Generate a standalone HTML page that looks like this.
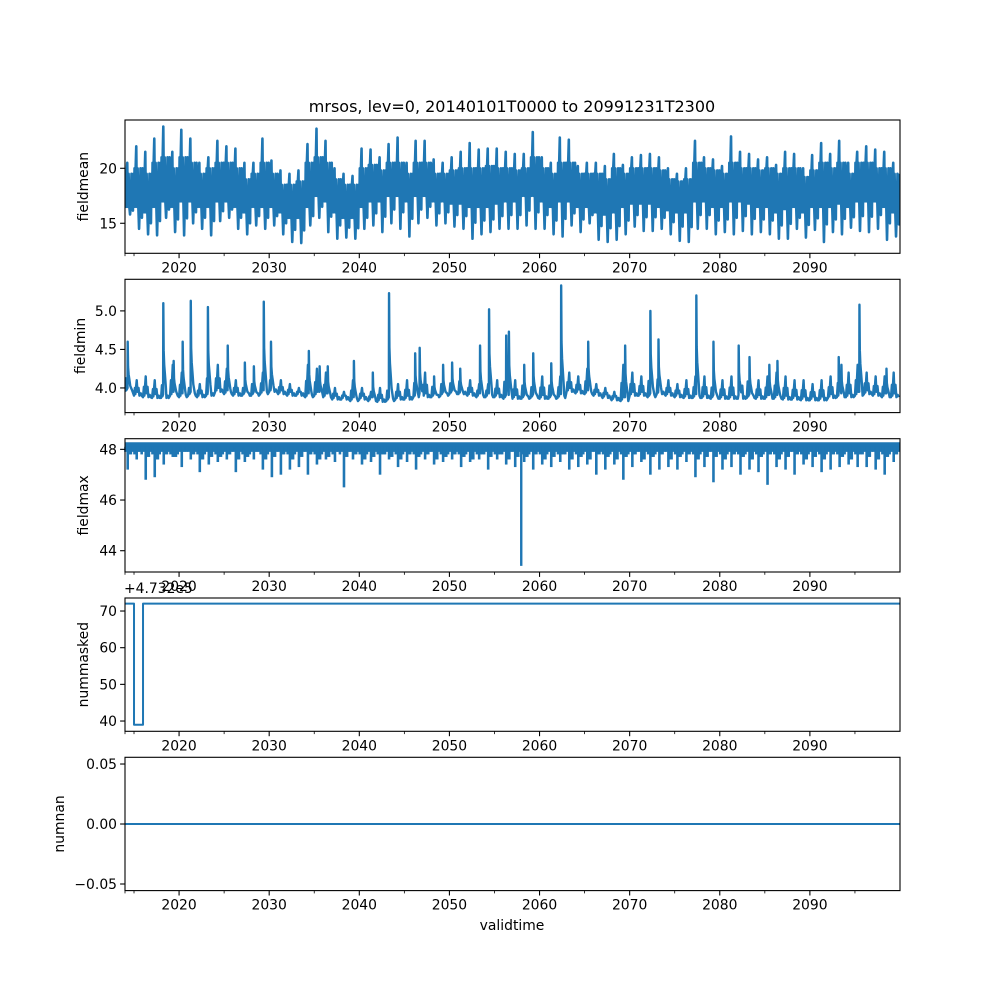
<!DOCTYPE html>
<html><head><meta charset="utf-8"><style>
html,body{margin:0;padding:0;background:#fff;}
svg{display:block;font-family:"DejaVu Sans","Liberation Sans",sans-serif;}
</style></head><body>
<svg id="chart" width="1000" height="1000" viewBox="0 0 1000 1000" xmlns="http://www.w3.org/2000/svg">
<rect x="0" y="0" width="1000" height="1000" fill="#fff"/>
<text x="512" y="112" font-size="16" text-anchor="middle">mrsos, lev=0, 20140101T0000 to 20991231T2300</text>
<text x="512" y="930" font-size="13.9" text-anchor="middle">validtime</text>
<text x="124" y="593" font-size="13.9">+4.732e5</text>
</svg>
<script>
// ---------- data ----------
const meanPeak=[20.5,22,21.5,22.7,23.8,21.5,23.5,22.7,20.5,21,
22.5,22,21.8,20.5,20.5,22.7,20.7,19.8,19.5,19.8,
22.2,23.6,22.5,20,19.5,19.3,21.8,21.7,21,22.2,
22.8,20.5,22.5,22.5,20.8,20.5,21,21.5,22.3,21.7,
21.8,21.8,21.5,21.3,21.3,23.3,21,20.5,22.8,22.6,
20.2,20.5,20.5,20.2,21.3,20.3,21,21.2,21.3,21,
20,19.5,20,22.5,21,20.8,20.2,22.9,21.5,21.3,
20.8,21,20.3,21.5,21.3,20,21.2,22.3,21.3,22.5,
20.5,21.5,22,21.7,21.5,20.5];
const meanTrough=[15.8,14.5,14,13.9,15.5,14.2,13.9,15,14.5,13.9,
15.2,15.5,14.5,14,14.8,14.5,14.8,14,13.3,13.2,
14.8,15.5,14.2,13.6,13.7,13.6,14.5,14.8,14.2,15,
14.5,13.8,15,15.5,14.8,15,14.7,14.5,13.6,14,
14.2,14.5,14.5,14.5,14.8,14.5,14.5,14,13.8,14.8,
14.2,15,13.5,13.3,13.5,14,14.7,14.3,14.3,14.5,
14,13.4,13.3,14.5,14.5,14,14.2,14,14.3,14,
14.2,14,13.6,13.6,14.5,13.7,14.4,13.3,14.2,14,
14.6,14.3,14.2,14.5,13.5,13.8];
const meanSecond=[19.5,20,19.5,20.5,21,20,21,20.5,19.5,20,
20.5,20.5,20,19,19.5,20.5,19.5,18.5,18.5,18.8,
20.5,21,20.5,19,18.5,18.5,20,20.3,19.8,20.5,
20.5,19.5,20.5,20.5,19.5,19.5,19.8,20,20,20,
20.2,20,20,19.8,20,21,20,19.5,20.5,20.5,
19.5,19.5,19.5,19,20,19.5,20,20,20,19.8,
19,18.8,19,20.5,20,19.8,19.5,20.5,20,20,
19.8,20,19.5,20,20,19.2,19.8,20.5,20,20.5,
19.5,20.5,20.5,20,20,19.5];
const meanSub=[16.5,16.5,16,16.5,17,16.5,17,17,16.5,16.5,
17,17,16.5,16,16.5,16.5,16.5,16,15.5,15.5,
16.5,17.5,17,16,15.5,15.5,16.5,17,17,17.5,
17.5,17,17.5,17.5,17,17,16.8,16.8,16.5,16.5,
16.5,16.8,17,17,17.5,17.5,17,16.5,17,17,
16.5,16.5,16,15.8,16,16.5,16.8,16.8,16.8,16.5,
16.2,16,16,17,17,16.5,16.5,17,17,16.8,
16.5,16.5,16,16.3,16.5,16,16.5,16.5,16.5,16.8,
16.5,17,17,17,16.5,16];

const minBase=[3.95,3.9,3.88,3.87,3.87,3.9,3.88,3.9,3.88,3.9,
3.95,3.92,3.9,3.9,3.9,3.92,3.95,3.92,3.9,3.9,
3.88,3.9,3.88,3.85,3.85,3.83,3.85,3.83,3.82,3.83,
3.85,3.85,3.88,3.88,3.88,3.9,3.92,3.92,3.9,3.88,
3.88,3.88,3.86,3.86,3.86,3.87,3.86,3.86,3.87,3.95,
3.93,3.92,3.9,3.87,3.84,3.83,3.9,3.9,3.88,3.92,
3.9,3.88,3.87,3.87,3.87,3.86,3.86,3.86,3.86,3.87,
3.86,3.86,3.86,3.85,3.85,3.84,3.84,3.84,3.87,3.88,
3.88,3.9,3.92,3.9,3.88,3.88];
const minBump=[4.3,4.1,4.15,4.1,4.2,4.3,4.2,4.1,4.05,4.35,
4.3,4.25,4.1,4.1,4.2,4.2,4.25,4.1,4.05,4.0,
4.3,4.25,4.2,4.0,3.95,4.1,4.0,3.95,4.0,4.1,
4.05,4.1,4.25,4.2,4.15,4.2,4.2,4.25,4.1,4.05,
4.05,4.1,4.3,4.1,4.2,4.15,4.15,4.2,4.15,4.2,
4.15,4.25,4.05,4.0,3.95,4.3,4.2,4.15,4.3,4.3,
4.1,4.05,4.1,4.15,4.15,4.15,4.1,4.15,4.2,4.3,
4.1,4.15,4.2,4.15,4.1,4.1,4.05,4.1,4.15,4.25,
4.2,4.3,4.2,4.15,4.15,4.2];
const minSpikeYears=[2014.3,2018.25,2019.4,2020.4,2021.3,2023.2,2025.4,2027.3,2028.3,2029.4,2030.2,2034.4,2035.6,2036.5,2039.4,2041.5,2043.3,2046.2,2046.7,2048.3,2049.3,2050.3,2051.2,2053.4,2054.4,2056.3,2056.6,2058.3,2059.3,2061.3,2062.4,2065.4,2069.5,2072.3,2073.2,2077.4,2079.3,2082.1,2083.3,2085.5,2086.4,2093.2,2093.5,2095.5,2098.5];
const minSpikeVals=[4.6,5.1,4.35,4.6,5.13,5.05,4.55,4.33,4.28,5.12,4.6,4.48,4.28,4.28,4.35,4.2,5.23,4.45,4.52,4.15,4.3,4.33,4.25,4.55,5.02,4.68,4.73,4.3,4.45,4.32,5.33,4.6,4.55,5.0,4.63,5.2,4.6,4.55,4.4,4.3,4.35,4.4,4.3,5.08,4.25];

const maxDipA=[47.2,47.6,46.8,46.9,47.4,47.7,47.3,47.6,47.1,47.4,
47.5,47.6,47.1,47.5,47.6,47.2,46.9,47.0,47.2,47.3,
47.0,47.4,47.6,47.5,46.5,47.6,47.4,47.5,47.0,47.6,
47.3,47.5,47.2,47.6,47.4,47.5,47.6,47.3,47.5,47.6,
47.2,47.6,47.4,47.3,47.5,47.2,47.4,47.3,47.5,47.2,
47.3,47.4,47.0,47.2,47.4,46.8,47.3,47.5,47.0,47.2,
47.3,47.2,47.5,46.9,47.3,46.7,47.2,47.3,47.0,47.2,
47.1,46.6,47.3,47.2,47.0,47.4,47.3,47.1,47.2,47.3,
47.4,47.3,47.3,47.2,47.0,47.5];
const maxDipB=[47.8,47.9,47.7,47.6,47.8,47.7,47.9,47.8,47.6,47.7,
47.7,47.8,47.6,47.7,47.9,47.6,47.7,47.8,47.6,47.7,
47.8,47.6,47.7,47.9,47.7,47.8,47.6,47.7,47.8,47.7,
47.6,47.8,47.7,47.8,47.6,47.7,47.8,47.7,47.6,47.8,
47.7,47.8,47.6,47.7,47.7,47.8,47.6,47.7,47.8,47.6,
47.7,47.6,47.8,47.7,47.6,47.7,47.8,47.6,47.7,47.8,
47.6,47.7,47.8,47.6,47.7,47.7,47.6,47.8,47.7,47.6,
47.7,47.8,47.6,47.7,47.8,47.6,47.7,47.6,47.8,47.7,
47.6,47.8,47.7,47.6,47.7,47.8];
const maxDipC=[47.9,47.8,47.9,47.8,47.9,47.8,47.9,47.9,47.8,47.9,
47.8,47.9,47.9,47.8,47.9,47.8,47.9,47.9,47.8,47.9,
47.9,47.8,47.9,47.8,47.9,47.9,47.8,47.9,47.8,47.9,
47.8,47.9,47.8,47.9,47.9,47.8,47.9,47.8,47.9,47.8,
47.9,47.8,47.9,47.9,47.8,47.9,47.8,47.9,47.8,47.9,
47.8,47.9,47.9,47.8,47.9,47.8,47.9,47.9,47.8,47.9,
47.9,47.8,47.9,47.8,47.9,47.9,47.8,47.9,47.8,47.9,
47.8,47.9,47.8,47.9,47.9,47.8,47.9,47.8,47.9,47.8,
47.9,47.8,47.9,47.9,47.8,47.9];
const maxBigYears=[2057.97];
const maxBigVals=[43.4];

const maskTimes=[2014,2015.0,2016.0,2100];
const maskVals=[72,39,72,72];
const nanTimes=[2014,2100];
const nanVals=[0,0];

const xMajor=[2020,2030,2040,2050,2060,2070,2080,2090];
const xMinor=[2015,2025,2035,2045,2055,2065,2075,2085,2095];
const p1Ticks=[15,20], p1Labels=["15","20"];
const p2Ticks=[4.0,4.5,5.0], p2Labels=["4.0","4.5","5.0"];
const p3Ticks=[44,46,48], p3Labels=["44","46","48"];
const p4Ticks=[40,50,60,70], p4Labels=["40","50","60","70"];
const p5Ticks=[-0.05,0,0.05], p5Labels=["\u22120.05","0.00","0.05"];

// ---------- drawing ----------
const svg=document.getElementById('chart');
const NS='http://www.w3.org/2000/svg';
const X0=125,X1=900,T0=2014,T1=2100;
const BLUE='#1f77b4';
function xs(t){return X0+(t-T0)/(T1-T0)*(X1-X0);}
function mk(tag,attrs){const e=document.createElementNS(NS,tag);for(const k in attrs)e.setAttribute(k,attrs[k]);svg.appendChild(e);return e;}
const panels=[
 {name:'fieldmean',top:120,lo:12.27,hi:24.39,ticks:p1Ticks,labels:p1Labels},
 {name:'fieldmin',top:279.3,lo:3.68,hi:5.41,ticks:p2Ticks,labels:p2Labels},
 {name:'fieldmax',top:438.7,lo:43.16,hi:48.42,ticks:p3Ticks,labels:p3Labels},
 {name:'nummasked',top:598,lo:37.2,hi:73.55,ticks:p4Ticks,labels:p4Labels},
 {name:'numnan',top:757.3,lo:-0.0555,hi:0.0556,ticks:p5Ticks,labels:p5Labels}
];
const H=133.3;
panels.forEach(p=>{p.bot=p.top+H;p.ys=v=>p.bot-(v-p.lo)/(p.hi-p.lo)*H;});
function line(p,pts,name,w){
  const d=pts.map((q,i)=>(i?'L':'M')+xs(q[0]).toFixed(2)+' '+p.ys(q[1]).toFixed(2)).join('');
  const e=mk('path',{d:d,fill:'none',stroke:BLUE,'stroke-width':w||2,'stroke-linejoin':'round'});
  
  
  return e;
}
const defs=mk('defs',{});
panels.forEach((p,i)=>{
  const c=document.createElementNS(NS,'clipPath');c.setAttribute('id','clip'+i);
  const r=document.createElementNS(NS,'rect');r.setAttribute('x',X0);r.setAttribute('y',p.top);r.setAttribute('width',X1-X0);r.setAttribute('height',H);
  c.appendChild(r);defs.appendChild(c);
});

// Panel 1 fieldmean
(function(){
  const p=panels[0];const pts=[];
  for(let i=0;i<meanPeak.length;i++){
    const y=T0+i,s=meanSub[i],sc=meanSecond[i];
    const seq=[[0,s],[0.06,sc],[0.12,s],[0.18,sc],[0.25,meanPeak[i]],[0.32,s],[0.4,sc],[0.48,s],[0.56,meanTrough[i]],[0.64,s],[0.72,sc],[0.8,s],[0.88,(s+meanTrough[i])/2],[0.94,sc]];
    seq.forEach(q=>pts.push([y+q[0],q[1]]));
  }
  const e=line(p,pts,'fieldmean-series',2.6);e.setAttribute('clip-path','url(#clip0)');
})();
// Panel 2 fieldmin
(function(){
  const p=panels[1];let pts=[];
  for(let i=0;i<minBase.length;i++){
    const y=T0+i,b=minBase[i],u=minBump[i];
    [[0,b],[0.1,(b+u)/2],[0.15,b+0.02],[0.3,u],[0.38,b+0.05],[0.5,(b+u)/2],[0.6,b],[0.75,b+0.03],[0.85,b]].forEach(q=>pts.push([y+q[0],q[1]]));
  }
  for(let k=0;k<minSpikeYears.length;k++){
    const s=minSpikeYears[k],v=minSpikeVals[k];
    const b=minBase[Math.min(minBase.length-1,Math.floor(s-T0))];
    pts=pts.filter(q=>q[0]<s-0.03||q[0]>s+0.3);
    [[s-0.02,b+0.05],[s,v],[s+0.04,b+(v-b)*0.5],[s+0.1,b+(v-b)*0.35],[s+0.18,b+(v-b)*0.25],[s+0.28,b+(v-b)*0.12]].forEach(q=>pts.push(q));
  }
  pts.sort((a,c)=>a[0]-c[0]);
  const e=line(p,pts,'fieldmin-series',2.4);e.setAttribute('clip-path','url(#clip1)');
})();
// Panel 3 fieldmax
(function(){
  const p=panels[2];
  const band=mk('rect',{x:X0,y:p.ys(48.28),width:X1-X0,height:p.ys(47.98)-p.ys(48.28),fill:BLUE});
  
  
  const dips=[[maxDipA,0.3],[maxDipB,0.65],[maxDipC,0.05],[maxDipC,0.85],[maxDipB,0.45]];
  dips.forEach(dp=>{
    dp[0].forEach((v,i)=>{
      const x=xs(T0+i+dp[1]);
      const e=mk('line',{x1:x,x2:x,y1:p.ys(48.1),y2:p.ys(v),stroke:BLUE,'stroke-width':2.6});
      
      
    });
  });
  maxBigYears.forEach((t,i)=>{
    const x=xs(t);
    const e=mk('line',{x1:x,x2:x,y1:p.ys(48.1),y2:p.ys(maxBigVals[i]),stroke:BLUE,'stroke-width':2.4});
    
    
  });
})();
// Panel 4 nummasked (step)
(function(){
  const p=panels[3];const pts=[];
  for(let i=0;i<maskTimes.length;i++){
    if(i>0)pts.push([maskTimes[i],maskVals[i-1]]);
    pts.push([maskTimes[i],maskVals[i]]);
  }
  line(p,pts,'nummasked-series',2);
})();
// Panel 5 numnan
(function(){
  const p=panels[4];
  line(p,nanTimes.map((t,i)=>[t,nanVals[i]]),'numnan-series',2);
})();

// axes
panels.forEach((p,i)=>{
  const fr=mk('rect',{x:X0,y:p.top,width:X1-X0,height:H,fill:'none',stroke:'#000','stroke-width':1.1});
  
  
  xMajor.forEach(t=>{
    const x=xs(t);
    mk('line',{x1:x,x2:x,y1:p.bot,y2:p.bot+4.9,stroke:'#000','stroke-width':1.1});
    const tx=mk('text',{x:x,y:p.bot+19,'font-size':13.9,'text-anchor':'middle'});
    tx.textContent=String(t);
    
    
  });
  xMinor.concat([2014]).forEach(t=>{
    const x=xs(t);
    mk('line',{x1:x,x2:x,y1:p.bot,y2:p.bot+2.8,stroke:'#000','stroke-width':0.8});
  });
  p.ticks.forEach((v,k)=>{
    const y=p.ys(v);
    mk('line',{x1:X0-4.9,x2:X0,y1:y,y2:y,stroke:'#000','stroke-width':1.1});
    const tx=mk('text',{x:X0-8,y:y+5,'font-size':13.9,'text-anchor':'end'});
    tx.textContent=p.labels[k];
    
    
  });
  const lx={fieldmean:88,fieldmin:85,fieldmax:88,nummasked:88,numnan:64}[p.name];
  const yl=mk('text',{x:lx,y:p.top+H/2,'font-size':13.9,'text-anchor':'middle',transform:'rotate(-90 '+lx+' '+(p.top+H/2)+')'});
  yl.textContent=p.name;
  
  
});
</script>
</body></html>
